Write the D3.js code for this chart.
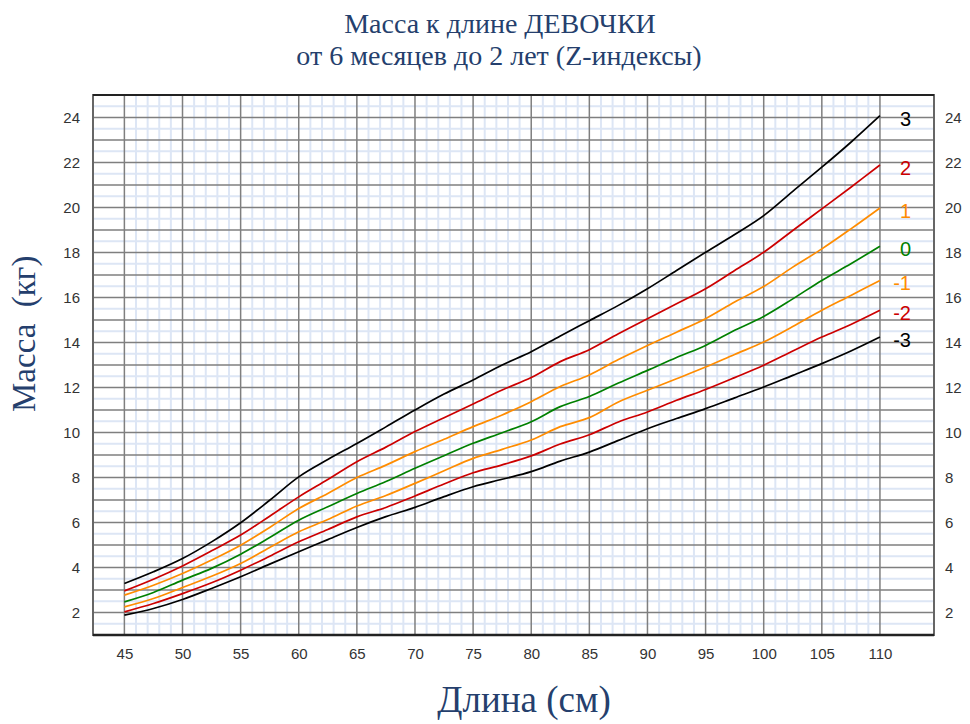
<!DOCTYPE html>
<html><head><meta charset="utf-8">
<script src="https://cdn.jsdelivr.net/npm/d3@7"></script>
<style>
body{margin:0;background:#fff;}
svg{display:block;}
.tick text{font-family:"Liberation Sans",Arial,sans-serif;font-size:15px;fill:#333;}
</style></head>
<body><svg id="c" width="970" height="724"></svg>
<script>
const lengths = [45,47.5,50,52.5,55,57.5,60,62.5,65,67.5,70,72.5,75,77.5,80,82.5,85,87.5,90,92.5,95,97.5,100,102.5,105,107.5,110];
const sdPlus3  = [3.29,3.81,4.4,5.14,5.99,6.99,8.03,8.8,9.51,10.25,11.0,11.71,12.33,13.0,13.59,14.29,14.97,15.65,16.39,17.2,18.01,18.8,19.64,20.72,21.79,22.9,24.08];
const sdPlus2  = [2.96,3.48,4.07,4.74,5.44,6.28,7.14,7.91,8.7,9.35,10.04,10.66,11.27,11.89,12.44,13.15,13.68,14.39,15.06,15.72,16.39,17.2,18.01,18.98,19.94,20.9,21.89];
const sdPlus1  = [2.77,3.21,3.73,4.33,4.99,5.78,6.62,7.29,8.0,8.55,9.15,9.7,10.26,10.78,11.37,12.04,12.56,13.24,13.87,14.46,15.06,15.8,16.49,17.35,18.16,19.05,19.98];
const sdZero   = [2.47,2.89,3.44,3.96,4.59,5.33,6.1,6.7,7.29,7.82,8.41,8.97,9.52,9.99,10.48,11.15,11.6,12.2,12.76,13.33,13.87,14.54,15.16,15.94,16.76,17.5,18.28];
const sdMinus1 = [2.25,2.62,3.11,3.61,4.18,4.89,5.59,6.13,6.73,7.2,7.74,8.3,8.85,9.25,9.67,10.26,10.66,11.36,11.88,12.39,12.91,13.47,14.02,14.71,15.43,16.09,16.76];
const sdMinus2 = [2.03,2.4,2.84,3.32,3.88,4.5,5.14,5.69,6.25,6.67,7.18,7.71,8.21,8.56,8.96,9.49,9.9,10.47,10.91,11.43,11.91,12.44,12.99,13.62,14.24,14.8,15.43];
const sdMinus3 = [1.88,2.18,2.58,3.07,3.59,4.15,4.7,5.24,5.78,6.26,6.67,7.15,7.59,7.92,8.26,8.73,9.13,9.65,10.17,10.62,11.06,11.54,12.02,12.54,13.06,13.62,14.24];
const seriesNames = ["3","2","1","0","-1","-2","-3"];
const seriesColors = ["#000000","#cc0000","#ff8c00","#008000","#ff8c00","#cc0000","#000000"];
const seriesValues = [sdPlus3,sdPlus2,sdPlus1,sdZero,sdMinus1,sdMinus2,sdMinus3];
const xTicks = [45,50,55,60,65,70,75,80,85,90,95,100,105,110];
const yTicks = [2,4,6,8,10,12,14,16,18,20,22,24];
const titleLines = ["Масса к длине ДЕВОЧКИ","от 6 месяцев до 2 лет (Z-индексы)"];
const xTitle = "Длина (см)";
const yTitle = "Масса  (кг)";

const svg = d3.select("#c");
const L = 93, R = 934, T = 95, B = 635;
const x = d3.scaleLinear().domain([42.3,114.65]).range([L,R]);
const y = d3.scaleLinear().domain([1,25]).range([B,T]);

const g = svg.append("g");
// minor grid
const minorH = d3.range(1.5,25,1);
g.selectAll(".mh").data(minorH).enter().append("line")
  .attr("x1",L).attr("x2",R).attr("y1",d=>y(d)).attr("y2",d=>y(d))
  .attr("stroke","#dde6f5").attr("stroke-width",2);
const minorV = d3.range(45,111,1).filter(d=>d%5!==0);
g.selectAll(".mv").data(minorV).enter().append("line")
  .attr("y1",T).attr("y2",B).attr("x1",d=>x(d)).attr("x2",d=>x(d))
  .attr("stroke","#dde6f5").attr("stroke-width",2);
// major grid
const majorH = d3.range(2,25,1);
g.selectAll(".MH").data(majorH).enter().append("line")
  .attr("x1",L).attr("x2",R).attr("y1",d=>y(d)).attr("y2",d=>y(d))
  .attr("stroke","#7f7f7f").attr("stroke-width",1.5);
g.selectAll(".MV").data(xTicks).enter().append("line")
  .attr("y1",T).attr("y2",B).attr("x1",d=>x(d)).attr("x2",d=>x(d))
  .attr("stroke","#7f7f7f").attr("stroke-width",1.5);
// frame
g.append("rect").attr("x",L).attr("y",T).attr("width",R-L).attr("height",B-T)
  .attr("fill","none").attr("stroke","#666").attr("stroke-width",2);
g.append("line").attr("x1",L).attr("x2",R).attr("y1",T).attr("y2",T).attr("stroke","#222").attr("stroke-width",2);
g.append("line").attr("x1",L).attr("x2",R).attr("y1",B).attr("y2",B).attr("stroke","#222").attr("stroke-width",2.5);

// curves
const line = d3.line().x((d,i)=>x(lengths[i])).y(d=>y(d)).curve(d3.curveCatmullRom.alpha(0.5));
seriesValues.forEach((vals,k)=>{
  svg.append("path").attr("d",line(vals)).attr("fill","none")
    .attr("stroke",seriesColors[k]).attr("stroke-width",1.7);
  svg.append("text").attr("x",911).attr("y",y(vals[vals.length-1])+3)
    .attr("text-anchor","end").attr("dominant-baseline","central")
    .attr("font-family","Liberation Sans, Arial, sans-serif").attr("font-size",20)
    .attr("fill",seriesColors[k]).text(seriesNames[k]);
});

// axes
const ax = svg.append("g").attr("transform",`translate(0,${B})`)
  .call(d3.axisBottom(x).tickValues(xTicks).tickSize(0).tickPadding(13));
ax.select(".domain").remove();
const ayl = svg.append("g").attr("transform",`translate(${L},0)`)
  .call(d3.axisLeft(y).tickValues(yTicks).tickSize(0).tickPadding(13));
ayl.select(".domain").remove();
const ayr = svg.append("g").attr("transform",`translate(${R},0)`)
  .call(d3.axisRight(y).tickValues(yTicks).tickSize(0).tickPadding(11));
ayr.select(".domain").remove();

// titles
const serif = "Liberation Serif, Times New Roman, serif";
svg.append("text").attr("x",500).attr("y",33).attr("text-anchor","middle")
  .attr("font-family",serif).attr("font-size",28).attr("fill","#253f6d").text(titleLines[0]);
svg.append("text").attr("x",499).attr("y",65).attr("text-anchor","middle")
  .attr("font-family",serif).attr("font-size",28).attr("fill","#253f6d").text(titleLines[1]);
svg.append("text").attr("x",524).attr("y",712).attr("text-anchor","middle")
  .attr("font-family",serif).attr("font-size",37).attr("fill","#253f6d").text(xTitle);
svg.append("text").attr("transform","translate(35,412) rotate(-90)").attr("text-anchor","start")
  .style("white-space","pre")
  .attr("font-family",serif).attr("font-size",33).attr("fill","#253f6d").text(yTitle);
</script></body></html>
